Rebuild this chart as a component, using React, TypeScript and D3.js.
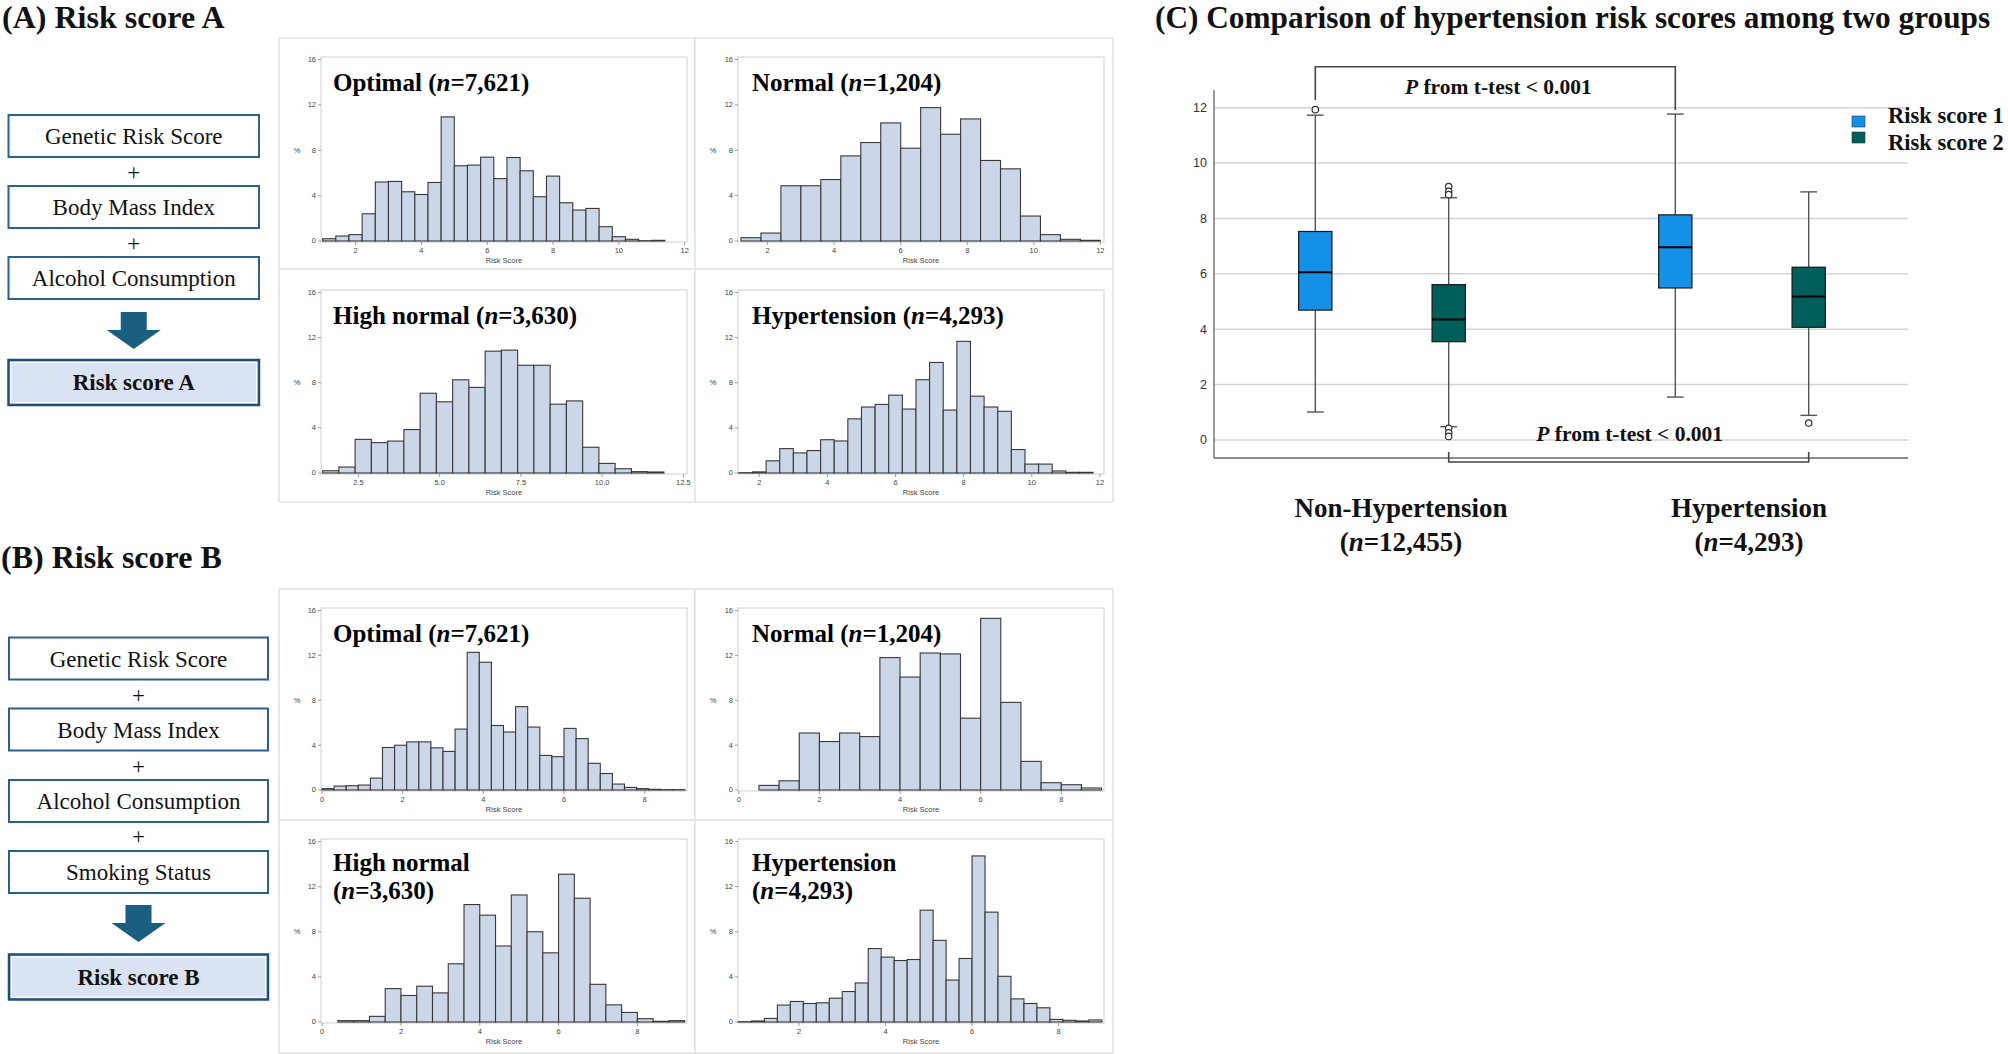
import React from "react";
import * as d3 from "d3";

const W = 2008;
const H = 1054;

const SERIF = "'Liberation Serif', 'Times New Roman', serif";
const SANS = "'Liberation Sans', Arial, sans-serif";

// ---- histogram data (percent per bin) ----
const groups = ["Optimal", "Normal", "High normal", "Hypertension"];
const groupN = ["7,621", "1,204", "3,630", "4,293"];

// Risk score A
const aBinStart = [1.0, 1.2, 1.4, 1.4];
const aBinWidth = [0.4, 0.6, 0.5, 0.4];
const aOptimal = [0.2, 0.44, 0.56, 2.4, 5.2, 5.25, 4.34, 4.1, 5.16, 10.94, 6.63, 6.69, 7.39, 5.5, 7.36, 6.19, 3.9, 5.72, 3.37, 2.73, 2.87, 1.26, 0.38, 0.15, 0.03, 0.06];
const aNormal = [0.29, 0.7, 4.87, 4.87, 5.42, 7.5, 8.68, 10.41, 8.18, 11.76, 9.41, 10.76, 7.1, 6.36, 2.2, 0.56, 0.15, 0.06];
const aHighNormal = [0.2, 0.53, 2.98, 2.69, 2.83, 3.85, 7.07, 6.31, 8.26, 7.59, 10.8, 10.89, 9.55, 9.55, 6.1, 6.39, 2.28, 0.85, 0.38, 0.12, 0.09];
const aHypertension = [0.03, 0.1, 1.08, 2.16, 1.78, 1.99, 2.95, 2.84, 4.8, 5.85, 6.08, 6.9, 5.67, 8.27, 9.8, 5.58, 11.67, 6.81, 5.85, 5.47, 2.08, 0.79, 0.79, 0.18, 0.06, 0.06];
const aXDomain = [[0.95, 12.07], [1.11, 12.11], [1.35, 12.61], [1.375, 12.12]];
const aXTicks = [[2, 4, 6, 8, 10, 12], [2, 4, 6, 8, 10, 12], [2.5, 5, 7.5, 10, 12.5], [2, 4, 6, 8, 10, 12]];

// Risk score B
const bBinStart = [0, 0.5, 0.4, 0.6];
const bBinWidth = [0.3, 0.5, 0.4, 0.3];
const bOptimal = [0.12, 0.35, 0.38, 0.44, 1.06, 3.79, 3.99, 4.29, 4.29, 3.76, 3.44, 5.43, 12.27, 11.39, 5.75, 5.17, 7.43, 5.61, 3.08, 2.97, 5.49, 4.58, 2.38, 1.47, 0.53, 0.23, 0.12, 0.06, 0.03, 0.03];
const bNormal = [0.41, 0.82, 5.08, 4.32, 5.08, 4.76, 11.8, 10.07, 12.21, 12.13, 6.4, 15.3, 7.81, 2.55, 0.65, 0.47, 0.18];
const bHighNormal = [0.12, 0.12, 0.5, 2.96, 2.35, 3.17, 2.58, 5.16, 10.41, 9.47, 6.74, 11.26, 8.0, 6.13, 13.1, 10.97, 3.34, 1.52, 0.85, 0.29, 0.06, 0.12];
const bHypertension = [0.03, 0.09, 0.32, 1.5, 1.82, 1.64, 1.7, 2.11, 2.7, 3.46, 6.51, 5.75, 5.45, 5.54, 9.91, 7.24, 3.72, 5.63, 14.72, 9.74, 4.05, 2.05, 1.64, 1.26, 0.23, 0.15, 0.09, 0.18];
const bXDomain = [[-0.025, 9.05], [-0.02, 9.06], [-0.03, 9.26], [0.59, 9.05]];
const bXTicks = [[0, 2, 4, 6, 8], [0, 2, 4, 6, 8], [0, 2, 4, 6, 8], [2, 4, 6, 8]];

const yTicksHist = [0, 4, 8, 12, 16];

// ---- flowchart items ----
const componentsA = ["Genetic Risk Score", "Body Mass Index", "Alcohol Consumption"];
const componentsB = ["Genetic Risk Score", "Body Mass Index", "Alcohol Consumption", "Smoking Status"];

// ---- panel C box plot stats ----
const boxGroups = ["Non-Hypertension", "Hypertension"];
const boxGroupN = ["12,455", "4,293"];
const boxSeries = ["Risk score 1", "Risk score 2"];
const rs1Low = [1.01, 1.55];
const rs1Q1 = [4.69, 5.49];
const rs1Median = [6.06, 6.96];
const rs1Q3 = [7.53, 8.13];
const rs1High = [11.73, 11.77];
const rs1Outliers = [[11.93], []];
const rs2Low = [0.48, 0.89];
const rs2Q1 = [3.55, 4.07];
const rs2Median = [4.35, 5.18];
const rs2Q3 = [5.61, 6.24];
const rs2High = [8.75, 8.96];
const rs2Outliers = [[9.15, 8.98, 8.86, 0.42, 0.26, 0.13], [0.61]];
const boxYTicks = [0, 2, 4, 6, 8, 10, 12];
const seriesColor = ["#1490e6", "#005f5b"];

// layout of histogram cells
const colCell = [[279, 695], [695, 1113]];
const colFrame = [[321, 687], [738, 1104]];
const rowCellA = [[38, 269], [269, 502]];
const rowFrameA = [[57, 242], [290, 474]];
const rowCellB = [[589, 820], [820, 1053]];
const rowFrameB = [[608, 791], [839, 1023]];

type HistProps = {
  cell: number[][];
  frame: number[][];
  xDomain: number[];
  xTicks: number[];
  binStart: number;
  binWidth: number;
  pct: number[];
  title: string;
  n: string;
  twoLines: boolean;
  col: number;
};

function Title({ x, y, title, n, twoLines }: any) {
  if (twoLines) {
    return (
      <text x={x} y={y - 1} fontFamily={SERIF} fontWeight="bold" fontSize={25} fill="#000">
        <tspan x={x}>{title}</tspan>
        <tspan x={x} dy={28}>(<tspan fontStyle="italic">n</tspan>={n})</tspan>
      </text>
    );
  }
  return (
    <text x={x} y={y} fontFamily={SERIF} fontWeight="bold" fontSize={25} fill="#000">
      {title} (<tspan fontStyle="italic">n</tspan>={n})
    </text>
  );
}

function Histogram({ cell, frame, xDomain, xTicks, binStart, binWidth, pct, title, n, twoLines, col }: HistProps) {
  const [cx0, cx1] = cell[0];
  const [cy0, cy1] = cell[1];
  const [l, r] = frame[0];
  const [t, b] = frame[1];
  const x = d3.scaleLinear().domain(xDomain).range([l, r]);
  const y = d3.scaleLinear().domain([0, 16]).range([b - 1, t + 2.5]);
  const fmt = xTicks.some((v) => v % 1 !== 0) ? d3.format(".1f") : d3.format("d");
  const bins = pct.map((p, i) => ({ x0: binStart + i * binWidth, x1: binStart + (i + 1) * binWidth, p }));
  return (
    <g>
      <rect x={cx0} y={cy0} width={cx1 - cx0} height={cy1 - cy0} fill="#fff" stroke="#e2e2e2" strokeWidth={1.5} />
      <rect x={l} y={t} width={r - l} height={b - t} fill="#fff" stroke="#cfcfcf" strokeWidth={1} />
      {bins.map((d, i) => (
        <rect
          key={i}
          x={x(d.x0)}
          y={y(d.p)}
          width={x(d.x1) - x(d.x0)}
          height={y(0) - y(d.p)}
          fill="#cbd7e8"
          stroke="#383838"
          strokeWidth={1.1}
        />
      ))}
      {yTicksHist.map((v) => (
        <g key={v}>
          <line x1={l - 3} x2={l} y1={y(v)} y2={y(v)} stroke="#888" strokeWidth={0.8} />
          <text x={l - 5} y={y(v)} dy="0.33em" textAnchor="end" fontFamily={SANS} fontSize={7.5} fill="#444">
            {v}
          </text>
        </g>
      ))}
      <text x={cx0 + 18} y={y(8)} dy="0.33em" textAnchor="middle" fontFamily={SANS} fontSize={7.5} fill="#444">
        %
      </text>
      {xTicks.map((v) => (
        <g key={v}>
          <line x1={x(v)} x2={x(v)} y1={b} y2={b + 3} stroke="#888" strokeWidth={0.8} />
          <text x={x(v)} y={b + 11} textAnchor="middle" fontFamily={SANS} fontSize={7.5} fill="#444">
            {fmt(v)}
          </text>
        </g>
      ))}
      <text x={(l + r) / 2} y={b + 21} textAnchor="middle" fontFamily={SANS} fontSize={7.5} fill="#444">
        Risk Score
      </text>
      <Title x={l + (col === 0 ? 12 : 14)} y={twoLines ? t + 33 : t + 34} title={title} n={n} twoLines={twoLines} />
    </g>
  );
}

function Arrow({ cx, top, shaftW, shaftH, headW, headH }: any) {
  const pts = [
    [cx - shaftW / 2, top],
    [cx + shaftW / 2, top],
    [cx + shaftW / 2, top + shaftH],
    [cx + headW / 2, top + shaftH],
    [cx, top + shaftH + headH],
    [cx - headW / 2, top + shaftH],
    [cx - shaftW / 2, top + shaftH],
  ];
  return <polygon points={pts.map((p) => p.join(",")).join(" ")} fill="#1b5f80" />;
}

function Flow({ items, x0, x1, tops, plusY, arrowTop, resultTop, resultLabel }: any) {
  const cx = (x0 + x1) / 2;
  return (
    <g>
      {items.map((s: string, i: number) => (
        <g key={s}>
          <rect x={x0} y={tops[i]} width={x1 - x0} height={42} fill="#fff" stroke="#2f5f8c" strokeWidth={2} />
          <text x={cx} y={tops[i] + 29} textAnchor="middle" fontFamily={SERIF} fontSize={23} fill="#111">
            {s}
          </text>
        </g>
      ))}
      {plusY.map((py: number, i: number) => (
        <text key={i} x={cx} y={py + 8} textAnchor="middle" fontFamily={SERIF} fontSize={23} fill="#111">
          +
        </text>
      ))}
      <Arrow cx={cx} top={arrowTop} shaftW={26} shaftH={18} headW={54} headH={19} />
      <rect x={x0} y={resultTop} width={x1 - x0} height={45} fill="#dae3f3" stroke="#1f4e79" strokeWidth={2.5} />
      <rect x={x0 + 2.5} y={resultTop + 2.5} width={x1 - x0 - 5} height={40} fill="none" stroke="#fff" strokeWidth={1} />
      <text x={cx} y={resultTop + 30} textAnchor="middle" fontFamily={SERIF} fontWeight="bold" fontSize={23} fill="#111">
        {resultLabel}
      </text>
    </g>
  );
}

function BoxPanel() {
  const y = d3.scaleLinear().domain([0, 12]).range([440, 107.7]);
  const gx = d3.scaleBand().domain(boxGroups).range([1202, 1922]).padding(0);
  const sx = d3.scalePoint().domain(boxSeries).range([-66.7, 66.7]);
  const bw = 33.3;
  const cap = 16.7;
  const axisL = 1214;
  const axisR = 1908;
  const axisB = 458;
  const center = (g: string, s: string) => (gx(g) as number) + gx.bandwidth() / 2 + (sx(s) as number);

  const stats = boxGroups.flatMap((g, gi) => [
    { g, s: boxSeries[0], lo: rs1Low[gi], q1: rs1Q1[gi], med: rs1Median[gi], q3: rs1Q3[gi], hi: rs1High[gi], out: rs1Outliers[gi], color: seriesColor[0] },
    { g, s: boxSeries[1], lo: rs2Low[gi], q1: rs2Q1[gi], med: rs2Median[gi], q3: rs2Q3[gi], hi: rs2High[gi], out: rs2Outliers[gi], color: seriesColor[1] },
  ]);

  const topL = center(boxGroups[0], boxSeries[0]);
  const topR = center(boxGroups[1], boxSeries[0]);
  const botL = center(boxGroups[0], boxSeries[1]);
  const botR = center(boxGroups[1], boxSeries[1]);
  const labelShift = [19, 7];

  return (
    <g>
      {boxYTicks.map((v) => (
        <g key={v}>
          <line x1={axisL} x2={axisR} y1={y(v)} y2={y(v)} stroke="#d4d4d4" strokeWidth={1.5} />
          <text x={axisL - 7} y={y(v)} dy="0.35em" textAnchor="end" fontFamily={SANS} fontSize={12.5} fill="#333">
            {v}
          </text>
        </g>
      ))}
      <line x1={axisL} x2={axisL} y1={90} y2={axisB} stroke="#666" strokeWidth={1.3} />
      <line x1={axisL} x2={axisR} y1={axisB} y2={axisB} stroke="#666" strokeWidth={1.3} />

      {stats.map((d, i) => {
        const cx = center(d.g, d.s);
        return (
          <g key={i}>
            <line x1={cx} x2={cx} y1={y(d.hi)} y2={y(d.q3)} stroke="#555" strokeWidth={1.4} />
            <line x1={cx} x2={cx} y1={y(d.q1)} y2={y(d.lo)} stroke="#555" strokeWidth={1.4} />
            <line x1={cx - cap / 2} x2={cx + cap / 2} y1={y(d.hi)} y2={y(d.hi)} stroke="#555" strokeWidth={1.4} />
            <line x1={cx - cap / 2} x2={cx + cap / 2} y1={y(d.lo)} y2={y(d.lo)} stroke="#555" strokeWidth={1.4} />
            <rect x={cx - bw / 2} y={y(d.q3)} width={bw} height={y(d.q1) - y(d.q3)} fill={d.color} stroke="#1a1a1a" strokeWidth={1.2} />
            <line x1={cx - bw / 2} x2={cx + bw / 2} y1={y(d.med)} y2={y(d.med)} stroke="#000" strokeWidth={2} />
            {d.out.map((o: number, k: number) => (
              <circle key={k} cx={cx} cy={y(o)} r={3.2} fill="#fff" stroke="#333" strokeWidth={1.2} />
            ))}
          </g>
        );
      })}

      {/* top bracket */}
      <path d={`M${topL},100 V66.7 H${topR} V110`} fill="none" stroke="#444" strokeWidth={1.6} />
      <text x={(topL + topR) / 2 + 3} y={94} textAnchor="middle" fontFamily={SERIF} fontWeight="bold" fontSize={21.5} fill="#111">
        <tspan fontStyle="italic">P</tspan> from t-test &lt; 0.001
      </text>
      {/* bottom bracket */}
      <path d={`M${botL},452 V462 H${botR} V452`} fill="none" stroke="#444" strokeWidth={1.6} />
      <text x={(botL + botR) / 2 + 1} y={441} textAnchor="middle" fontFamily={SERIF} fontWeight="bold" fontSize={21.5} fill="#111">
        <tspan fontStyle="italic">P</tspan> from t-test &lt; 0.001
      </text>

      {/* legend */}
      {boxSeries.map((s, i) => (
        <g key={s}>
          <rect x={1852} y={116 + i * 16} width={13} height={11} fill={seriesColor[i]} stroke="#333" strokeWidth={0.6} />
          <text x={1888} y={122.5 + i * 27.5} fontFamily={SERIF} fontWeight="bold" fontSize={22.5} fill="#111">
            {s}
          </text>
        </g>
      ))}

      {/* category labels */}
      {boxGroups.map((g, i) => {
        const cx = (gx(g) as number) + gx.bandwidth() / 2 + labelShift[i];
        return (
          <g key={g}>
            <text x={cx} y={517} textAnchor="middle" fontFamily={SERIF} fontWeight="bold" fontSize={27} fill="#111">
              {g}
            </text>
            <text x={cx} y={551} textAnchor="middle" fontFamily={SERIF} fontWeight="bold" fontSize={27} fill="#111">
              (<tspan fontStyle="italic">n</tspan>={boxGroupN[i]})
            </text>
          </g>
        );
      })}
    </g>
  );
}

export default function App() {
  const aPct = [aOptimal, aNormal, aHighNormal, aHypertension];
  const bPct = [bOptimal, bNormal, bHighNormal, bHypertension];

  const histCells = (
    pct: number[][],
    starts: number[],
    widths: number[],
    domains: number[][],
    ticks: number[][],
    rowCell: number[][],
    rowFrame: number[][],
    wrapLong: boolean,
    key: string
  ) =>
    groups.map((g, i) => {
      const col = i % 2;
      const row = Math.floor(i / 2);
      return (
        <Histogram
          key={key + i}
          cell={[colCell[col], rowCell[row]]}
          frame={[colFrame[col], rowFrame[row]]}
          xDomain={domains[i]}
          xTicks={ticks[i]}
          binStart={starts[i]}
          binWidth={widths[i]}
          pct={pct[i]}
          title={g}
          n={groupN[i]}
          twoLines={wrapLong && row === 1}
          col={col}
        />
      );
    });

  return (
    <svg
      width={W}
      height={H}
      viewBox={`0 0 ${W} ${H}`}
      style={{ position: "absolute", left: 0, top: 0, background: "#fff" }}
    >
      <rect x={0} y={0} width={W} height={H} fill="#fff" />

      <text x={2} y={28} fontFamily={SERIF} fontWeight="bold" fontSize={32} fill="#111">
        (A) Risk score A
      </text>
      <text x={1} y={568} fontFamily={SERIF} fontWeight="bold" fontSize={32} fill="#111">
        (B) Risk score B
      </text>
      <text x={1155} y={28} fontFamily={SERIF} fontWeight="bold" fontSize={31.3} fill="#111">
        (C) Comparison of hypertension risk scores among two groups
      </text>

      <Flow
        items={componentsA}
        x0={8.5}
        x1={259}
        tops={[115, 186, 257]}
        plusY={[172, 243]}
        arrowTop={312}
        resultTop={360}
        resultLabel="Risk score A"
      />
      <Flow
        items={componentsB}
        x0={9}
        x1={268}
        tops={[637.5, 708.5, 780, 851]}
        plusY={[695, 766, 836]}
        arrowTop={905}
        resultTop={954.5}
        resultLabel="Risk score B"
      />

      {histCells(aPct, aBinStart, aBinWidth, aXDomain, aXTicks, rowCellA, rowFrameA, false, "a")}
      {histCells(bPct, bBinStart, bBinWidth, bXDomain, bXTicks, rowCellB, rowFrameB, true, "b")}

      <BoxPanel />
    </svg>
  );
}
